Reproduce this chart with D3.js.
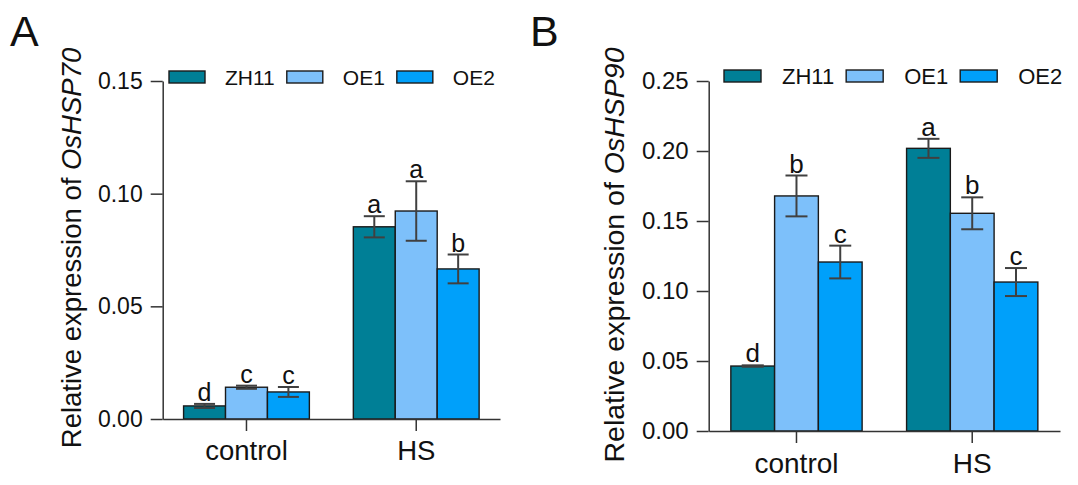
<!DOCTYPE html>
<html>
<head>
<meta charset="utf-8">
<script src="https://cdn.jsdelivr.net/npm/d3@7"></script>
<style>
  html, body { margin: 0; padding: 0; background: #fff; }
  svg { display: block; font-family: "Liberation Sans", Arial, sans-serif; }
</style>
</head>
<body>
<svg id="chart" width="1078" height="485"></svg>
<script>
// ---------- data ----------
const categories = ["control", "HS"];
const seriesNames = ["ZH11", "OE1", "OE2"];
const seriesColors = ["#007f96", "#7dc0fa", "#00a0fa"];

// Panel A: OsHSP70
const hsp70Mean_ZH11 = [0.0058, 0.0853];
const hsp70Mean_OE1  = [0.0141, 0.0923];
const hsp70Mean_OE2  = [0.0120, 0.0666];
const hsp70Err_ZH11  = [0.0009, 0.0047];
const hsp70Err_OE1   = [0.0007, 0.0132];
const hsp70Err_OE2   = [0.0022, 0.0064];
const hsp70Letters_ZH11 = ["d", "a"];
const hsp70Letters_OE1  = ["c", "a"];
const hsp70Letters_OE2  = ["c", "b"];
const hsp70Ticks = [0, 0.05, 0.10, 0.15];

// Panel B: OsHSP90
const hsp90Mean_ZH11 = [0.0464, 0.2019];
const hsp90Mean_OE1  = [0.1679, 0.1555];
const hsp90Mean_OE2  = [0.1207, 0.1064];
const hsp90Err_ZH11  = [0.0005, 0.0068];
const hsp90Err_OE1   = [0.0146, 0.0114];
const hsp90Err_OE2   = [0.0117, 0.0100];
const hsp90Letters_ZH11 = ["d", "a"];
const hsp90Letters_OE1  = ["b", "b"];
const hsp90Letters_OE2  = ["c", "c"];
const hsp90Ticks = [0, 0.05, 0.10, 0.15, 0.20, 0.25];

// ---------- drawing ----------
const svg = d3.select("#chart");

function buildRows(means, errs, letters) {
  const rows = [];
  categories.forEach((c, ci) => {
    seriesNames.forEach((s, si) => {
      rows.push({ cat: c, ser: s, si: si, mean: means[si][ci], err: errs[si][ci], letter: letters[si][ci] });
    });
  });
  return rows;
}

function drawPanel(cfg) {
  const g = svg.append("g");
  const y = d3.scaleLinear().domain([0, cfg.ticks[cfg.ticks.length - 1]]).range([cfg.yBottom, cfg.yTop]);
  const x = d3.scaleBand().domain(categories).range([cfg.x0, cfg.x1])
    .paddingInner(cfg.padInner).paddingOuter(cfg.padOuter);
  const xs = d3.scaleBand().domain(seriesNames).range([0, x.bandwidth()]);

  const rows = buildRows(cfg.means, cfg.errs, cfg.letters);

  // bars
  g.selectAll("rect.bar").data(rows).join("rect")
    .attr("class", "bar")
    .attr("x", d => x(d.cat) + xs(d.ser))
    .attr("width", xs.bandwidth())
    .attr("y", d => y(d.mean))
    .attr("height", d => y(0) - y(d.mean))
    .attr("fill", d => seriesColors[d.si])
    .attr("stroke", "#1a1a1a")
    .attr("stroke-width", 1.4);

  // error bars
  const cx = d => x(d.cat) + xs(d.ser) + xs.bandwidth() / 2;
  const capW = cfg.capW;
  const eb = g.selectAll("g.err").data(rows).join("g").attr("class", "err")
    .attr("stroke", "#404040").attr("stroke-width", 2);
  eb.append("line")
    .attr("x1", cx).attr("x2", cx)
    .attr("y1", d => y(d.mean + d.err)).attr("y2", d => y(d.mean - d.err));
  eb.append("line")
    .attr("x1", d => cx(d) - capW / 2).attr("x2", d => cx(d) + capW / 2)
    .attr("y1", d => y(d.mean + d.err)).attr("y2", d => y(d.mean + d.err));
  eb.append("line")
    .attr("x1", d => cx(d) - capW / 2).attr("x2", d => cx(d) + capW / 2)
    .attr("y1", d => y(d.mean - d.err)).attr("y2", d => y(d.mean - d.err));

  // significance letters
  g.selectAll("text.sig").data(rows).join("text")
    .attr("class", "sig")
    .attr("x", cx)
    .attr("y", d => y(d.mean + d.err) - 3)
    .attr("text-anchor", "middle")
    .attr("font-size", cfg.sigFont)
    .attr("fill", "#111")
    .text(d => d.letter);

  // y axis
  const yAxis = g.append("g")
    .attr("transform", `translate(${cfg.x0},0)`)
    .call(d3.axisLeft(y).tickValues(cfg.ticks).tickFormat(d3.format(".2f"))
      .tickSize(12).tickSizeOuter(0).tickPadding(8));
  yAxis.select(".domain").attr("stroke", "#333").attr("stroke-width", 1.5);
  yAxis.selectAll(".tick line").attr("stroke", "#333").attr("stroke-width", 1.5);
  yAxis.selectAll(".tick text").attr("font-size", cfg.tickFont).attr("fill", "#111")
    .attr("font-family", "Liberation Sans, Arial, sans-serif");

  // x axis
  const xAxis = g.append("g")
    .attr("transform", `translate(0,${cfg.yBottom})`)
    .call(d3.axisBottom(x).tickSize(12).tickSizeOuter(0));
  xAxis.select(".domain").attr("stroke", "#333").attr("stroke-width", 1.5);
  xAxis.selectAll(".tick line").attr("stroke", "#333").attr("stroke-width", 1.5);
  xAxis.selectAll(".tick text").attr("font-size", cfg.catFont).attr("fill", "#111")
    .attr("font-family", "Liberation Sans, Arial, sans-serif")
    .attr("dy", 0).attr("y", cfg.catOffset);

  // y title
  const t = g.append("text")
    .attr("transform", `translate(${cfg.titleX},${cfg.titleY}) rotate(-90)`)
    .attr("text-anchor", "middle")
    .attr("font-size", cfg.titleFont)
    .attr("fill", "#111");
  t.append("tspan").text("Relative expression of ");
  t.append("tspan").attr("font-style", "italic").text(cfg.gene);

  // legend
  let lx = cfg.legX;
  seriesNames.forEach((s, i) => {
    g.append("rect")
      .attr("x", lx).attr("y", cfg.legY)
      .attr("width", cfg.swW).attr("height", 12)
      .attr("fill", seriesColors[i]).attr("stroke", "#1a1a1a").attr("stroke-width", 1.4);
    const tx = g.append("text")
      .attr("x", lx + cfg.swW + cfg.swGap).attr("y", cfg.legY + 14)
      .attr("font-size", cfg.legFont).attr("fill", "#111")
      .text(s);
    lx = lx + cfg.swW + cfg.swGap + tx.node().getComputedTextLength() + 12;
  });

  // panel letter
  g.append("text").attr("x", cfg.letterX).attr("y", 46)
    .attr("font-size", 43).attr("fill", "#111").text(cfg.panel);
}

drawPanel({
  panel: "A", letterX: 10, gene: "OsHSP70",
  means: [hsp70Mean_ZH11, hsp70Mean_OE1, hsp70Mean_OE2],
  errs: [hsp70Err_ZH11, hsp70Err_OE1, hsp70Err_OE2],
  letters: [hsp70Letters_ZH11, hsp70Letters_OE1, hsp70Letters_OE2],
  ticks: hsp70Ticks,
  x0: 162.7, x1: 500, yTop: 81, yBottom: 419,
  padInner: 0.259, padOuter: 0.123, capW: 21,
  tickFont: 23, catFont: 27.5, catOffset: 41, sigFont: 25,
  titleFont: 27.5, titleX: 81, titleY: 248,
  legX: 169, legY: 71, swW: 36, swGap: 20, legFont: 21
});

drawPanel({
  panel: "B", letterX: 530, gene: "OsHSP90",
  means: [hsp90Mean_ZH11, hsp90Mean_OE1, hsp90Mean_OE2],
  errs: [hsp90Err_ZH11, hsp90Err_OE1, hsp90Err_OE2],
  letters: [hsp90Letters_ZH11, hsp90Letters_OE1, hsp90Letters_OE2],
  ticks: hsp90Ticks,
  x0: 708.7, x1: 1060, yTop: 81, yBottom: 431,
  padInner: 0.253, padOuter: 0.126, capW: 22,
  tickFont: 24, catFont: 28, catOffset: 42, sigFont: 26,
  titleFont: 28.5, titleX: 624, titleY: 255,
  legX: 724, legY: 70, swW: 37, swGap: 21, legFont: 22
});
</script>
</body>
</html>
